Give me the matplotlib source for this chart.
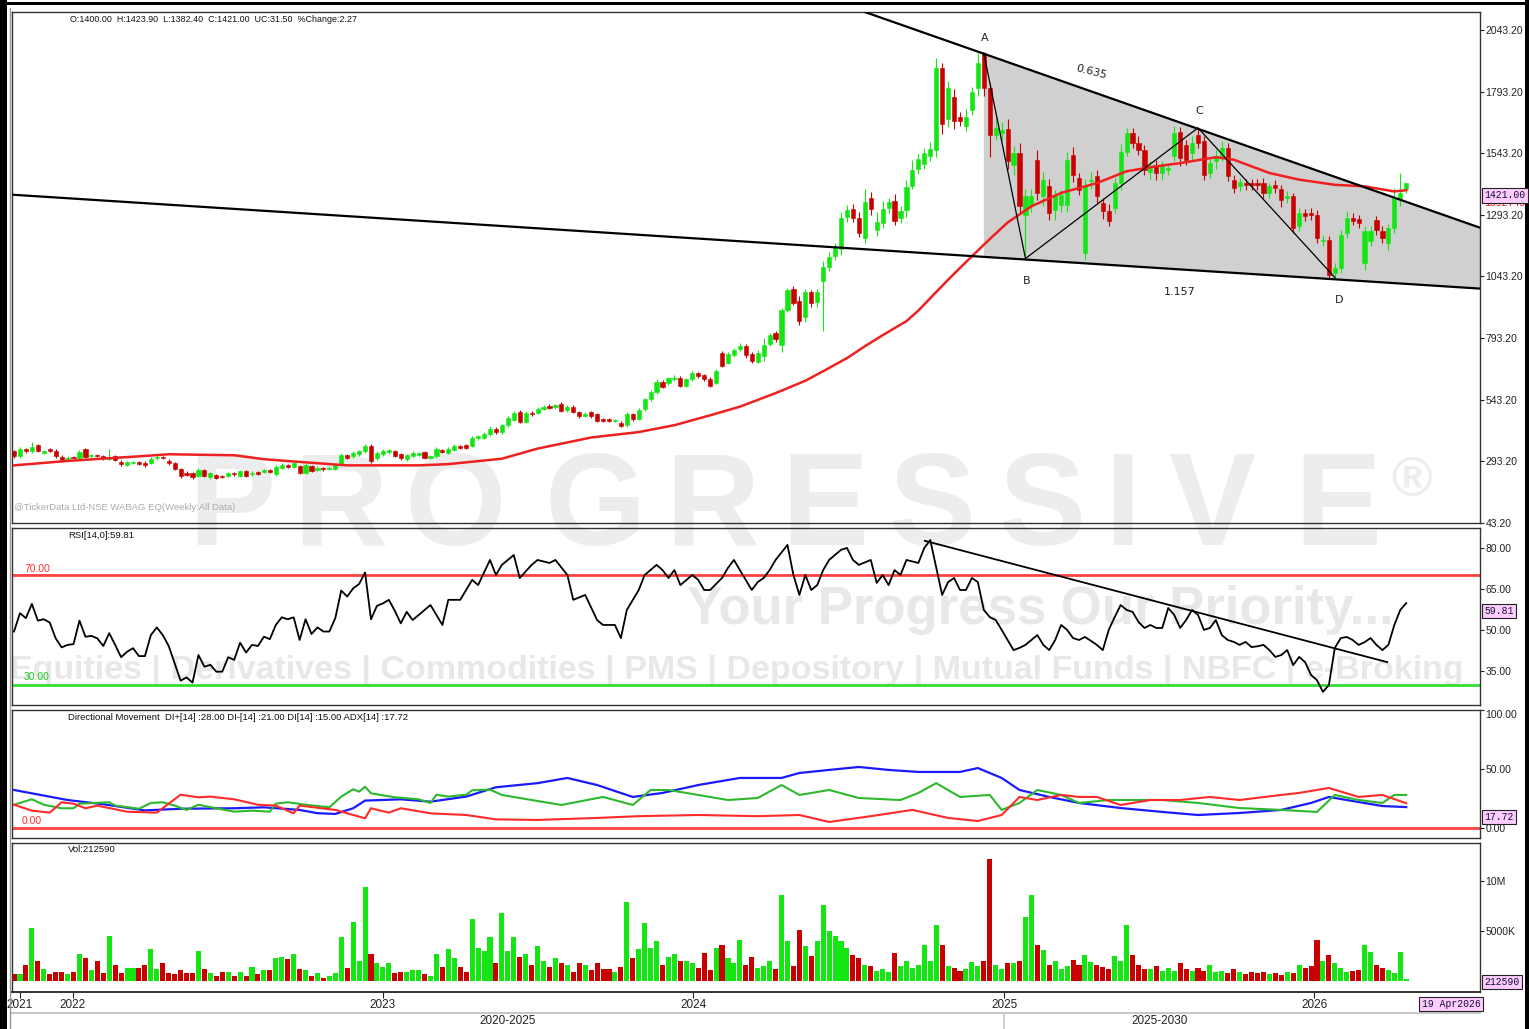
import matplotlib
matplotlib.use("Agg")
import matplotlib.pyplot as plt
import matplotlib.transforms as mtransforms
from matplotlib import font_manager
from matplotlib.lines import Line2D
from matplotlib.patches import Polygon, Rectangle
import numpy as np
import pandas as pd

W, H = 1529, 1029
START = "2021-10-24"          # first weekly bar
XMIN, XMAX = -0.34, 246.4     # visible bar-index range (blank space on the right)

# ---- weekly candles: open / close, wick lengths above and below the body ----
opens = [
    335, 313, 342, 334, 358, 329, 342, 335, 312, 304,
    312, 308, 342, 313, 318, 315, 302, 315, 291, 277,
    286, 291, 288, 285, 305, 312, 295, 285, 261, 245,
    245, 234, 257, 229, 237, 234, 234, 245, 234, 253,
    240, 250, 252, 257, 241, 266, 280, 272, 275, 248,
    275, 257, 268, 261, 264, 282, 318, 313, 322, 335,
    356, 305, 322, 331, 335, 322, 302, 315, 321, 331,
    308, 313, 338, 326, 340, 356, 358, 356, 386, 389,
    403, 426,
    412, 439, 461, 495, 454, 491, 491, 507, 518, 512,
    527, 501, 515, 493, 477, 493, 484, 464, 466, 457,
    450, 439, 484, 466, 504, 545, 574, 616, 612, 626,
    632, 599, 626, 650, 642, 626, 612, 734, 693, 724,
    747, 763, 727, 697, 720, 768, 812, 767, 906, 993,
    943, 878, 979, 939, 1024, 1082, 1125, 1155, 1284, 1318,
    1280, 1199, 1361, 1233, 1260, 1321, 1351, 1280, 1314, 1411,
    1480, 1500, 1530, 1557, 1890, 1680,
    1773, 1692, 1652, 1719, 1807, 1949, 1807, 1618, 1625, 1641,
    1496, 1544, 1294, 1334, 1517, 1368, 1409, 1314, 1334, 1334,
    1537, 1442, 1139, 1429, 1449, 1341, 1307, 1321, 1422, 1550,
    1625, 1584, 1557, 1469, 1496, 1463, 1476, 1530, 1631, 1577,
    1544, 1618, 1591, 1462, 1510, 1530, 1564, 1436, 1409, 1422,
    1422, 1422, 1422, 1382, 1415, 1398, 1361, 1368, 1246, 1300,
    1300, 1294, 1186, 1193, 1057, 1078, 1220, 1280, 1276, 1098,
    1186, 1273, 1226, 1179, 1240, 1361, 1400,
]
closes = [
    313, 342, 334, 352, 335, 335, 334, 313, 299, 308,
    305, 331, 312, 318, 313, 308, 308, 299, 281, 291,
    291, 283, 277, 302, 312, 305, 285, 264, 234, 237,
    231, 258, 234, 245, 225, 228, 244, 240, 253, 234,
    248, 243, 257, 250, 270, 280, 272, 285, 248, 279,
    254, 268, 261, 268, 278, 318, 308, 329, 335, 356,
    295, 329, 335, 339, 315, 306, 318, 329, 326, 308,
    315, 345, 331, 345, 356, 349, 349, 390, 396, 406,
    426, 412,
    440, 470, 491, 454, 491, 484, 507, 515, 510, 522,
    497, 515, 493, 477, 484, 477, 457, 457, 457, 461,
    437, 484, 464, 501, 545, 574, 616, 596, 630, 632,
    599, 626, 650, 639, 626, 599, 660, 682, 727, 745,
    763, 724, 700, 734, 765, 805, 788, 906, 988, 936,
    862, 979, 936, 979, 1082, 1122, 1163, 1280, 1314, 1280,
    1220, 1345, 1317, 1263, 1318, 1345, 1270, 1310, 1405, 1476,
    1520, 1545, 1560, 1890, 1660, 1808,
    1672, 1672, 1692, 1793, 1908, 1807, 1618, 1645, 1638, 1510,
    1544, 1328, 1368, 1368, 1382, 1436, 1301, 1375, 1375, 1517,
    1456, 1395, 1409, 1435, 1368, 1307, 1267, 1422, 1550, 1625,
    1584, 1557, 1476, 1483, 1463, 1490, 1483, 1625, 1523, 1516,
    1584, 1584, 1456, 1503, 1530, 1564, 1449, 1402, 1426, 1415,
    1415, 1415, 1382, 1409, 1402, 1355, 1368, 1240, 1300, 1287,
    1294, 1199, 1193, 1051, 1078, 1213, 1280, 1270, 1260, 1226,
    1226, 1233, 1199, 1240, 1361, 1381, 1421,
]
wick_up = [
    5, 8, 6, 20, 6, 5, 4, 8, 6, 5, 4, 8, 6, 5, 4, 6, 34, 6, 6, 5,
    4, 5, 6, 8, 6, 4, 6, 5, 4, 8, 5, 8, 4, 6, 4, 5, 6, 4, 6, 5,
    5, 4, 5, 4, 8, 6, 4, 6, 5, 6, 4, 5, 4, 5, 6, 8, 6, 8, 6, 6,
    8, 6, 8, 6, 5, 6, 5, 6, 4, 6, 5, 8, 6, 6, 8, 5, 6, 8, 6, 8,
    10, 8,
    5, 6, 8, 6, 5, 6, 8, 5, 6, 5, 6, 5, 6, 5, 8, 6, 5, 6, 5, 6,
    5, 8, 6, 8, 6, 8, 10, 8, 6, 10, 8, 6, 8, 6, 6, 10, 8, 6, 10, 8,
    12, 8, 8, 10, 30, 8, 10, 8, 10, 10, 20, 15, 10, 15, 25, 20, 15, 25, 20, 20,
    25, 55, 25, 40, 30, 17, 25, 20, 30, 40,
    20, 20, 30, 40, 20, 30,
    30, 20, 30, 20, 40, 2, 20, 40, 30, 40, 30, 40, 30, 30, 40, 30, 30, 20, 20, 30,
    30, 20, 30, 30, 25, 20, 30, 20, 30, 20, 20, 30, 20, 30, 20, 20, 20, 30, 20, 20,
    30, 25, 20, 20, 25, 30, 20, 20, 15, 15, 15, 15, 20, 15, 20, 15, 20, 15, 20, 15,
    20, 20, 20, 15, 20, 20, 30, 20, 15, 20, 20, 15, 20, 15, 40, 80, 3,
]
wick_dn = [
    6, 5, 8, 6, 5, 6, 4, 6, 6, 5, 4, 5, 6, 5, 4, 8, 5, 6, 6, 4,
    5, 5, 6, 4, 5, 4, 5, 6, 8, 5, 10, 6, 5, 6, 5, 4, 6, 5, 6, 5,
    5, 5, 4, 5, 8, 5, 4, 5, 6, 5, 5, 4, 5, 4, 5, 6, 5, 6, 5, 6,
    8, 6, 5, 6, 5, 8, 6, 5, 4, 6, 5, 6, 5, 4, 6, 5, 6, 5, 6, 5,
    5, 8,
    6, 5, 5, 6, 5, 6, 5, 6, 5, 6, 5, 6, 5, 6, 5, 6, 5, 6, 5, 6,
    6, 6, 6, 5, 6, 8, 6, 5, 8, 6, 6, 5, 8, 6, 6, 5, 6, 8, 6, 8,
    8, 10, 8, 6, 20, 8, 10, 30, 8, 10, 15, 20, 15, 20, 200, 15, 15, 25, 20, 15,
    15, 20, 25, 25, 20, 20, 20, 20, 30, 15,
    20, 20, 20, 30, 40, 30,
    30, 20, 20, 20, 30, 30, 90, 20, 30, 30, 40, 30, 180, 30, 30, 40, 30, 40, 30, 30,
    30, 20, 30, 30, 30, 30, 20, 20, 30, 20, 20, 20, 20, 30, 30, 30, 20, 20, 30, 20,
    30, 20, 20, 20, 30, 20, 20, 20, 20, 20, 20, 20, 20, 20, 20, 30, 20, 20, 20, 20,
    20, 20, 20, 12, 20, 20, 20, 20, 20, 30, 20, 20, 20, 30, 20, 30, 18,
]

# weekly volume, millions of shares
volume_m = [
    0.7, 0.7, 1.6, 5.3, 2.0, 1.2, 0.7, 0.93, 0.93, 0.7,
    0.93, 2.67, 2.27, 1.1, 2.0, 0.8, 4.5, 1.6, 0.8, 1.3,
    1.3, 1.3, 1.6, 3.17, 1.2, 1.8, 0.8, 0.7, 1.1, 0.8,
    0.8, 3.03, 1.2, 0.8, 0.53, 0.93, 0.93, 0.53, 0.93, 0.53,
    1.43, 0.67, 1.1, 1.1, 2.27, 2.37, 2.23, 2.67, 1.2, 1.07,
    0.53, 0.77, 0.27, 0.53, 0.8, 4.37, 1.3, 5.93, 2.0, 9.43,
    2.67, 1.8, 1.43, 1.8, 0.8, 0.93, 0.93, 1.1, 1.1, 0.67,
    0.53, 2.67, 1.43, 3.17, 2.27, 1.43, 0.93, 6.2, 3.27, 3.0,
    4.37, 1.8, 6.83, 3.0, 4.43, 2.43, 2.67, 1.6, 3.47, 2.0,
    1.43, 2.27, 1.8, 1.6, 0.93, 1.8, 1.6, 1.1, 1.8, 1.2,
    1.2, 0.93, 1.43, 7.9, 2.27, 3.17, 5.83, 3.33, 4.0, 1.6,
    2.4, 2.67, 2.0, 2.0, 1.8, 1.3, 2.77, 1.07, 3.33, 3.57,
    2.27, 1.8, 4.1, 1.6, 2.43, 1.3,
    1.5, 2.0, 1.2, 8.6, 4.0, 1.5, 5.1, 3.5, 2.5, 4.0,
    7.6, 5.0, 4.5, 4.0, 3.3, 2.6, 2.3, 1.6, 1.5, 1.0,
    1.2, 0.9, 2.8, 1.5, 2.0, 1.3, 1.6, 3.6, 2.0, 5.6,
    3.6, 1.5, 1.3, 1.0, 1.2, 1.9, 1.5, 2.0, 12.2, 1.6,
    1.2, 1.8, 1.8, 2.0, 6.4, 8.6, 3.6, 3.1, 1.6, 2.0,
    1.2, 1.5, 2.1, 1.6, 2.6, 1.9, 1.6, 1.4, 1.2, 2.5,
    2.0, 5.6, 2.6, 1.6, 1.2, 1.2, 1.5, 1.0, 1.3, 1.0,
    1.8, 1.2, 1.0, 1.3, 1.0, 1.6, 0.9, 1.0, 0.8, 1.2,
    0.9, 0.7, 0.9, 0.8, 0.9, 0.7, 0.8, 0.6, 0.9, 0.8,
    1.6, 1.3, 1.5, 4.1, 2.0, 2.6, 1.8, 1.3, 0.9, 1.0,
    1.1, 3.6, 2.9, 1.6, 1.3, 1.1, 0.8, 2.9, 0.21,
]

# moving average (red) read at bar indices
sma_idx = [0, 9, 20, 26, 37, 42, 48, 56, 68, 73, 82, 88, 97, 105, 111, 117, 122, 128, 133, 137,
           140, 143, 146, 150, 152, 155, 157, 159, 161, 164, 167, 171, 176, 182, 187, 192, 196, 202, 205, 211,
           216, 222, 227, 232, 234]
sma_val = [277, 295, 312, 322, 318, 302, 291, 277, 277, 282, 304, 345, 390, 412, 440, 480, 515, 570, 620, 672,
           712, 760, 805, 862, 905, 980, 1030, 1078, 1125, 1195, 1262, 1328, 1382, 1422, 1470, 1490, 1503, 1527, 1517, 1463,
           1436, 1415, 1409, 1388, 1393]

# RSI(14)
rsi_idx = (list(range(66)) +
           [66, 67, 70, 72, 73, 75, 77, 78, 80, 81, 82, 84, 85, 87, 88, 90, 91, 93, 94, 96,
            98, 99, 101, 102, 103, 105, 106, 108, 109, 110, 111, 112, 114, 115, 116, 117, 119, 120, 121, 122,
            124, 125, 126, 127, 128, 130, 131, 132, 133, 134, 135, 136, 137, 139, 140, 141, 142, 144, 145, 146,
            147, 148, 149, 150, 152, 153, 154, 156, 157, 158, 159, 160, 161, 162, 163, 164, 165, 166] +
           list(range(167, 235)))
rsi_val = [
    49.4, 56.1, 54.3, 59.5, 53.4, 53.9, 52.7, 46.9, 43.6, 44.5,
    44.8, 53.4, 47.5, 47.8, 46.9, 44.1, 48.8, 44.5, 40.0, 42.0,
    43.3, 40.4, 40.4, 48.1, 50.9, 48.1, 44.1, 37.8, 31.4, 32.6,
    30.7, 40.8, 36.5, 37.2, 34.7, 34.7, 40.0, 39.0, 45.3, 41.7,
    44.5, 44.1, 47.5, 46.6, 51.8, 54.6, 53.9, 54.6, 46.3, 53.9,
    48.5, 50.9, 49.4, 49.4, 54.3, 64.4, 62.2, 65.2, 66.8, 71.0,
    53.9, 58.8, 59.7, 61.0, 57.0, 52.4,
    56.6, 53.6, 59.1, 51.8, 61.0, 61.0, 68.3, 66.4, 75.6, 70.1,
    73.8, 77.4, 69.0, 73.8, 75.6, 74.5, 75.6, 70.1, 61.0, 62.8,
    53.6, 51.8, 51.8, 47.0, 57.3, 64.6, 70.1, 73.8, 71.9, 69.0,
    71.9, 66.4, 70.1, 68.3, 64.6, 64.6, 69.0, 72.7, 75.6, 71.9,
    64.6, 67.5, 69.0, 71.9, 75.6, 81.1, 70.1, 62.8, 70.1, 64.6,
    66.4, 71.9, 75.6, 79.3, 80.0, 75.6, 73.8, 75.6, 67.2, 70.1,
    66.4, 71.9, 70.1, 75.6, 74.5, 80.0, 82.9, 62.8, 67.5, 69.0,
    64.6, 64.6, 69.0, 67.5, 57.3, 54.7, 53.6, 50.0,
    46.3, 42.6, 43.4, 44.5, 46.3, 48.1, 44.5, 42.6, 46.3, 51.8,
    50.0, 47.0, 46.3, 47.4, 46.0, 44.5, 42.6, 50.0, 54.7, 59.1,
    57.3, 56.6, 52.9, 50.7, 51.8, 50.7, 50.7, 58.0, 55.5, 50.7,
    53.6, 57.3, 55.5, 50.0, 50.7, 53.6, 48.1, 46.3, 45.6, 44.5,
    45.6, 43.7, 44.0, 44.5, 42.6, 40.1, 40.8, 42.6, 37.1, 40.1,
    38.2, 33.5, 31.6, 27.3, 29.8, 43.4, 47.0, 47.4, 46.3, 44.5,
    45.5, 47.0, 44.5, 42.6, 44.5, 51.8, 57.3, 59.8,
]

# directional movement: ADX (blue), DI+ (green), DI- (red)
adx_idx = [0, 9, 15, 22, 28, 37, 42, 48, 51, 54, 57, 59, 65, 70, 76, 81, 88, 93, 98, 104,
           109, 115, 122, 129, 132, 137, 142, 147, 152, 159, 162, 166, 169, 174, 179, 186, 193, 199, 206, 213,
           218, 221, 224, 230, 234]
adx_val = [32.2, 23.7, 20.1, 14.9, 16.3, 16.7, 17.5, 15.3, 12.5, 11.9, 16.7, 23.2, 24.3, 22.3, 26.6, 34.5, 38.0, 42.4, 36.4, 26.3,
           29.7, 36.4, 42.4, 42.4, 46.6, 49.2, 51.7, 49.2, 47.5, 47.5, 50.8, 42.4, 32.2, 26.3, 21.2, 16.9, 13.6, 11.0, 12.7, 15.3,
           21.2, 26.3, 23.7, 18.6, 17.7]
dip_idx = [0, 3, 5, 8, 10, 11, 16, 17, 21, 23, 25, 27, 29, 31, 34, 37, 40, 43, 44, 46,
           49, 53, 55, 57, 58, 59, 60, 64, 68, 70, 71, 73, 76, 77, 80, 82, 87, 92, 99, 104,
           107, 110, 115, 120, 125, 129, 132, 137, 142, 149, 152, 155, 159, 164, 166, 169, 172, 176, 179, 184,
           188, 193, 199, 206, 213, 219, 222, 226, 230, 232, 234]
dip_val = [19.7, 24.3, 19.7, 16.7, 16.7, 20.6, 21.8, 19.0, 16.3, 21.2, 21.8, 19.0, 15.3, 19.7, 16.7, 13.8, 14.7, 13.8, 20.6, 21.8,
           19.7, 17.5, 26.6, 32.8, 30.8, 35.0, 29.4, 26.0, 24.3, 21.2, 28.2, 26.6, 28.2, 31.9, 32.5, 28.0, 23.7, 19.5, 26.3, 19.5,
           32.2, 32.2, 28.0, 23.7, 25.4, 36.4, 28.0, 32.2, 25.4, 23.7, 29.7, 38.0, 26.3, 28.0, 15.3, 21.2, 32.2, 28.0, 21.2, 23.7,
           23.7, 23.7, 21.2, 16.9, 15.3, 13.6, 28.0, 23.7, 21.2, 28.0, 28.0]
dim_idx = [0, 3, 6, 8, 10, 12, 14, 19, 24, 28, 31, 33, 37, 41, 44, 47, 48, 54, 59, 60,
           63, 65, 70, 76, 81, 88, 98, 105, 115, 125, 132, 137, 144, 151, 157, 162, 166, 169, 172, 176,
           179, 182, 186, 191, 196, 201, 206, 213, 216, 221, 226, 230, 234]
dim_val = [19.7, 14.7, 13.0, 21.8, 20.6, 16.7, 18.9, 13.8, 13.0, 28.2, 26.0, 26.6, 24.3, 19.7, 19.0, 12.4, 19.0, 15.3, 8.2, 16.7,
           13.0, 16.7, 12.4, 11.0, 7.3, 6.8, 8.5, 10.0, 11.0, 10.0, 11.0, 5.1, 10.0, 15.3, 8.5, 5.9, 11.0, 26.3, 23.7, 28.0,
           26.3, 26.3, 19.5, 23.7, 23.7, 26.3, 23.7, 28.0, 29.7, 33.9, 26.3, 28.0, 21.0]

# drawn studies
pat_idx = [163, 170, 199, 222]
pat_val = [1950, 1116, 1646, 1039]
pat_lab = ["A", "B", "C", "D"]
wedge_hi_x, wedge_hi_y = [143.0, 246.4], [2116, 1241]
wedge_lo_x, wedge_lo_y = [-0.34, 246.4], [1375, 994]
rsi_tl_x, rsi_tl_y = [153.1, 230.8], [82.6, 38.2]

price_ticks = [43.2 + 250 * k for k in range(9)]
rsi_ticks = [35, 50, 65, 80]
dmi_ticks = [0, 50, 100]
vol_ticks = [5e6, 10e6]
vol_labels = ["5000K", "10M"]
years = [2022, 2023, 2024, 2025, 2026]

GREEN = "#14e614"
RED = "#c80000"

names = {f.name for f in font_manager.fontManager.ttflist}
NARROW = "Liberation Sans Narrow" if "Liberation Sans Narrow" in names else "Liberation Sans"
plt.rcParams["font.family"] = [NARROW, "DejaVu Sans"]
MONO = "Liberation Mono"

o = np.array(opens, float)
c = np.array(closes, float)
n = len(c)
assert len(o) == n == len(wick_up) == len(wick_dn) == len(volume_m)
hi = np.maximum(o, c) + np.array(wick_up, float)
lo = np.minimum(o, c) - np.array(wick_dn, float)
idx = np.arange(n)
dates = pd.date_range(START, periods=n, freq="7D")
col = np.where(c >= o, GREEN, RED)

fig = plt.figure(figsize=(W / 100, H / 100), dpi=100)
fig.patch.set_facecolor("white")


def rect(top, bottom, left=12, right=1480):
    return [left / W, 1 - bottom / H, (right - left) / W, (bottom - top) / H]


def ftext(x, y, s, **kw):
    return fig.text(x / W, 1 - y / H, s, **kw)


ax_p = fig.add_axes(rect(12, 523))
ax_r = fig.add_axes(rect(528, 705))
ax_d = fig.add_axes(rect(710, 838))
ax_v = fig.add_axes(rect(843, 992))

for ax in (ax_p, ax_r, ax_d, ax_v):
    ax.set_facecolor("none")
    ax.set_xlim(XMIN, XMAX)
    for s in ax.spines.values():
        s.set_color("#333333")
        s.set_linewidth(1.0)
    ax.yaxis.tick_right()
    ax.tick_params(axis="y", direction="out", length=3, width=0.8, pad=1,
                   labelsize=7.5, colors="#222222")
    ax.set_xticks([])

# ---- watermark (behind everything) ----
wm = dict(zorder=-5, family="Liberation Sans", ha="center", va="center", fontweight="bold")
for ch, xc in zip("PROGRESSIVE", [232, 340, 455, 595, 712, 825, 932, 1042, 1122, 1212, 1338]):
    ftext(xc, 510, ch, fontsize=94, color="#ededed", **wm)
ftext(1412, 482, "\u00ae", fontsize=40, color="#ededed", **wm)
ftext(1040, 610, "Your Progress Our Priority...", fontsize=38, color="#e8e8e8", **wm)
ftext(737, 671, "Equities | Derivatives | Commodities | PMS | Depository | Mutual Funds | NBFC | e-Broking",
      fontsize=24.5, color="#e8e8e8", **wm)

# ---- price panel ----
ax_p.set_ylim(43.2, 2116)
ax_p.set_yticks(price_ticks)
ax_p.set_yticklabels([f"{t:.2f}" for t in price_ticks])

x_left = pat_idx[0]
top_left = np.interp(x_left, wedge_hi_x, wedge_hi_y)
bot_left = np.interp(x_left, wedge_lo_x, wedge_lo_y)
ax_p.add_patch(Polygon([[x_left, top_left], [wedge_hi_x[1], wedge_hi_y[1]],
                        [wedge_lo_x[1], wedge_lo_y[1]], [x_left, bot_left]],
                       closed=True, fc="#d0d0d0", ec="none", zorder=0.5))

ax_p.vlines(idx, lo, hi, colors=col, lw=0.8, zorder=1.9)
ax_p.bar(idx, np.abs(c - o), bottom=np.minimum(o, c), width=0.7, color=col,
         edgecolor=col, linewidth=0.4, zorder=2)
ax_p.plot(sma_idx, sma_val, color="#ee2020", lw=1.8, zorder=3)

ax_p.plot(wedge_hi_x, wedge_hi_y, color="black", lw=1.6, zorder=4)
ax_p.plot(wedge_lo_x, wedge_lo_y, color="black", lw=1.6, zorder=4)
ax_p.plot(pat_idx, pat_val, color="black", lw=0.9, zorder=4)

lab_off = {"A": (1, 11), "B": (1, -16), "C": (1, 12), "D": (3, -16)}
for xi, yv, lab in zip(pat_idx, pat_val, pat_lab):
    ax_p.annotate(lab, (xi, yv), xytext=lab_off[lab], textcoords="offset points",
                  ha="center", va="center", fontsize=8, color="#222222", family="DejaVu Sans")
ax_p.annotate("0.635", ((pat_idx[0] + pat_idx[2]) / 2, (pat_val[0] + pat_val[2]) / 2),
              xytext=(0, 13), textcoords="offset points", ha="center", va="center",
              fontsize=8, rotation=-14, color="#222222", family="DejaVu Sans")
ax_p.annotate("1.157", ((pat_idx[1] + pat_idx[3]) / 2, (pat_val[1] + pat_val[3]) / 2),
              xytext=(0, -17), textcoords="offset points", ha="center", va="center",
              fontsize=8, color="#222222", family="DejaVu Sans")

ftext(70, 20, "O:1400.00  H:1423.90  L:1382.40  C:1421.00  UC:31.50  %Change:2.27",
      fontsize=6.4, ha="left", va="center", color="#111111")
ftext(14, 507, "@TickerData Ltd-NSE WABAG EQ(Weekly:All Data)",
      fontsize=6.8, ha="left", va="center", color="#aaaaaa")

box = dict(boxstyle="square,pad=0.25", fc="#ffccff", ec="#222222", lw=0.8)
ftext(1484, 203, "1392.45", fontsize=7, family=MONO, color="#ee2020", ha="left", va="center")
ftext(1484, 195.5, "1421.00", fontsize=7, family=MONO, color="#111133", ha="left", va="center", bbox=box)

# ---- RSI panel ----
ax_r.set_ylim(22.5, 87.3)
ax_r.set_yticks(rsi_ticks)
ax_r.set_yticklabels([f"{t:.2f}" for t in rsi_ticks])
ax_r.axhline(70, color="#ff4040", lw=2, zorder=1)
ax_r.axhline(30, color="#33dd33", lw=2, zorder=1)
ax_r.plot(rsi_idx, rsi_val, color="black", lw=1.3, zorder=3)
ax_r.plot(rsi_tl_x, rsi_tl_y, color="black", lw=1.3, zorder=3)
ftext(68, 535, "RSI[14,0]:59.81", fontsize=6.8, ha="left", va="center", color="#111111")
ftext(24, 569, "70.00", fontsize=7.5, ha="left", va="center", color="#ff3030")
ftext(24, 677, "30.00", fontsize=7.5, ha="left", va="center", color="#22cc22")
ftext(1484, 611, "59.81", fontsize=7, family=MONO, color="#111133", ha="left", va="center", bbox=box)

# ---- directional movement panel ----
ax_d.set_ylim(-8.5, 100)
ax_d.set_yticks(dmi_ticks)
ax_d.set_yticklabels([f"{t:.2f}" for t in dmi_ticks])
ax_d.get_yticklabels()[-1].set_va("top")
ax_d.axhline(0, color="#ff4040", lw=2, zorder=1)
ax_d.plot(adx_idx, adx_val, color="#1a1aff", lw=1.6, zorder=3)
ax_d.plot(dip_idx, dip_val, color="#2db82d", lw=1.5, zorder=3)
ax_d.plot(dim_idx, dim_val, color="#ff2a2a", lw=1.5, zorder=3)
ftext(68, 718, "Directional Movement  DI+[14] :28.00 DI-[14] :21.00 DI[14] :15.00 ADX[14] :17.72",
      fontsize=6.8, ha="left", va="center", color="#111111")
ftext(22, 821, "0.00", fontsize=7.5, ha="left", va="center", color="#ff3030")
ftext(1484, 817, "17.72", fontsize=7, family=MONO, color="#111133", ha="left", va="center", bbox=box)

# ---- volume panel ----
ax_v.set_ylim(-1.1e6, 13.8e6)
ax_v.set_yticks(vol_ticks)
ax_v.set_yticklabels(vol_labels)
ax_v.bar(idx, np.array(volume_m) * 1e6, width=0.85, color=col, zorder=2)
ftext(68, 850, "Vol:212590", fontsize=6.8, ha="left", va="center", color="#111111")
ftext(1484, 982, "212590", fontsize=7, family=MONO, color="#111133", ha="left", va="center", bbox=box)

t0 = dates[0]
year_pos = [(pd.Timestamp(f"{y}-01-01") - t0).days / 7 for y in years]
ax_v.set_xticks([1.0] + year_pos)
ax_v.set_xticklabels(["2021"] + [str(y) for y in years])
ax_v.tick_params(axis="x", direction="out", length=4, width=0.8, pad=1, labelsize=8.5, colors="#222222")
ax_v.spines["bottom"].set_linewidth(1.4)

# period row under the date axis
blend = mtransforms.blended_transform_factory(ax_v.transData, fig.transFigure)
y_row = 1 - 1013 / H
fig.add_artist(Line2D([12 / W, 1480 / W], [y_row, y_row], transform=fig.transFigure,
                      color="#c8c8c8", lw=1.5))
fig.add_artist(Line2D([year_pos[3], year_pos[3]], [y_row, 0], transform=blend,
                      color="#c8c8c8", lw=1.2))
fig.text((XMIN + year_pos[3]) / 2, 1 - 1021 / H, "2020-2025", transform=blend,
         ha="center", va="center", fontsize=8.5, color="#222222")
fig.text((year_pos[3] + year_pos[4]) / 2, 1 - 1021 / H, "2025-2030", transform=blend,
         ha="center", va="center", fontsize=8.5, color="#222222")
ftext(1451, 1004, "19 Apr2026", fontsize=7, family=MONO, color="#111133", ha="center", va="center", bbox=box)

# outer frame
fig.add_artist(Rectangle((0, 0), 7 / W, 1, transform=fig.transFigure, fc="black", ec="none"))
fig.add_artist(Rectangle((0, 1 - 5 / H), 1, 3 / H, transform=fig.transFigure, fc="black", ec="none"))
fig.add_artist(Rectangle((1525 / W, 0), 4 / W, 1, transform=fig.transFigure, fc="black", ec="none"))
fig.add_artist(Line2D([10 / W, 10 / W], [0, 1 - 8 / H], transform=fig.transFigure, color="#999999", lw=1))

fig.savefig("out.png", dpi=100, facecolor="white")
